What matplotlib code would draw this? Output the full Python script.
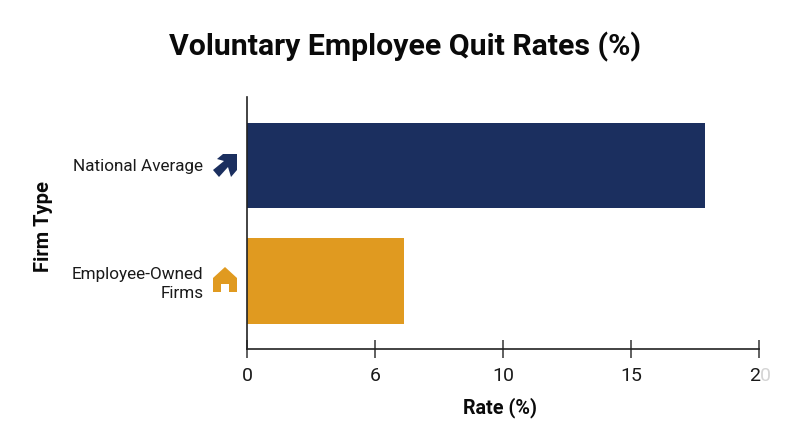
import matplotlib
matplotlib.use('Agg')
import matplotlib.pyplot as plt
from matplotlib.patches import Polygon

plt.rcParams['font.family'] = ['Roboto', 'DejaVu Sans']

# data
firms = ['National Average', 'Employee-Owned\nFirms']
rates = [17.9, 6.15]
bar_colors = ['#1B2F5F', '#E09A20']
tick_pos = [0, 5, 10, 15, 20]
tick_labels = ['0', '6', '10', '15', '']

W, H = 800, 447
fig = plt.figure(figsize=(8, 4.47), dpi=100)

# axes placed by pixels
ax = fig.add_axes([247 / W, 1 - 349 / H, (759 - 247) / W, (349 - 97) / H])
ax.barh(range(len(firms)), rates, height=0.74, color=bar_colors)
ax.set_xlim(0, 20)
ax.set_ylim(1.589, -0.593)

ax.spines['top'].set_visible(False)
ax.spines['right'].set_visible(False)
for s in ['left', 'bottom']:
    ax.spines[s].set_color('#222222')
    ax.spines[s].set_linewidth(1.2)

ax.set_yticks(range(len(firms)))
ax.set_yticklabels(firms, fontsize=12.3, color='#1a1a1a', linespacing=1.3)
ax.tick_params(axis='y', length=0, pad=31.5)
ax.set_xticks(tick_pos)
ax.set_xticklabels(tick_labels, fontsize=14, color='#1a1a1a')
ax.tick_params(axis='x', direction='inout', length=13, width=1.2, color='#444444', pad=6.5)

# the last tick label has a faded second digit
ax.annotate('2', (20, 0), xycoords=('data', 'axes fraction'), xytext=(0.5, -13),
            textcoords='offset points', ha='right', va='top', fontsize=14, color='#1a1a1a')
ax.annotate('0', (20, 0), xycoords=('data', 'axes fraction'), xytext=(0.5, -13),
            textcoords='offset points', ha='left', va='top', fontsize=14, color='#d4d4d4')

fig.text(405 / W, 1 - 47 / H, 'Voluntary Employee Quit Rates (%)', ha='center', va='center',
         fontsize=21.8, fontweight='bold', color='#0a0a0a')
fig.text(500 / W, 1 - 408 / H, 'Rate (%)', ha='center', va='center',
         fontsize=14.2, fontweight='bold', color='#0a0a0a')
fig.text(43.5 / W, 1 - 227 / H, 'Firm Type', ha='center', va='center', rotation=90,
         fontsize=14.5, fontweight='bold', color='#0a0a0a')


def px(points):
    return [(x / W, 1 - y / H) for x, y in points]


# small icons next to the labels
arrow = [(223, 154), (237, 154), (237, 170), (231, 177), (228, 167), (219, 177), (213, 170), (224, 161), (217, 159)]
house = [(225, 267), (237, 278), (237, 292), (229, 292), (229, 284), (221, 284), (221, 292), (213, 292), (213, 278)]
fig.add_artist(Polygon(px(arrow), closed=True, color='#1B2F5F', lw=0, transform=fig.transFigure))
fig.add_artist(Polygon(px(house), closed=True, color='#E09A20', lw=0, transform=fig.transFigure))

fig.savefig('out.png', dpi=100)
